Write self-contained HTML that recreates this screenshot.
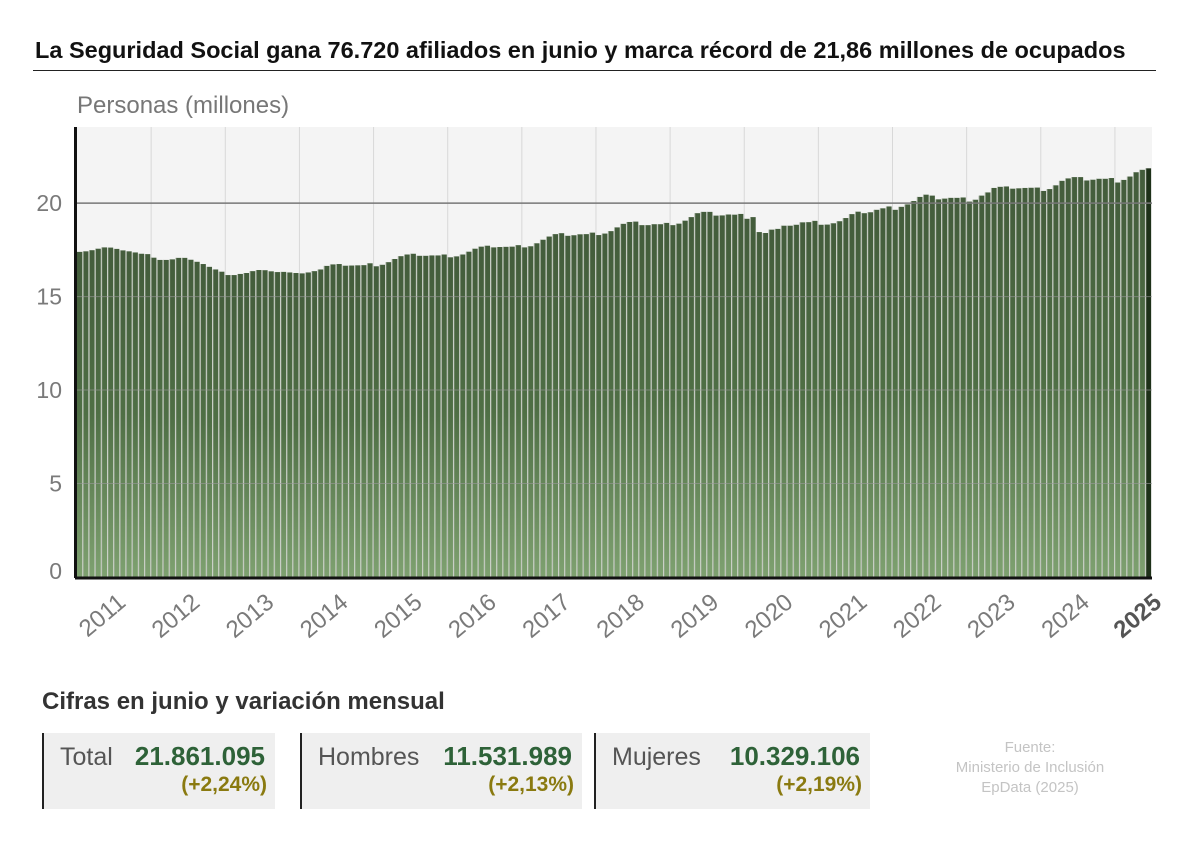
<!DOCTYPE html>
<html><head><meta charset="utf-8">
<style>
body{margin:0;width:1200px;height:850px;background:#fff;font-family:"Liberation Sans",sans-serif;position:relative;overflow:hidden}
.abs{position:absolute}
.card{position:absolute;top:733px;height:76px;background:#efefef;border-left:2px solid #222;box-sizing:border-box}
.card .lab{position:absolute;left:16px;top:10px;font-size:25px;color:#555}
.card .val{position:absolute;right:10px;top:8px;font-size:26px;font-weight:bold;color:#2e6238}
.card .pct{position:absolute;right:8px;top:40px;font-size:21px;font-weight:bold;color:#8a7a10}
</style></head><body>
<div class="abs" style="left:35px;top:37px;font-size:23.5px;font-weight:bold;color:#111;white-space:nowrap">La Seguridad Social gana 76.720 afiliados en junio y marca récord de 21,86 millones de ocupados</div>
<div class="abs" style="left:33px;top:70px;width:1123px;height:1px;background:#222"></div>
<div class="abs" style="left:77px;top:92px;font-size:24px;color:#777">Personas (millones)</div>
<svg id="chart" class="abs" style="left:0;top:0" width="1200" height="680">
<defs><linearGradient id="g" x1="0" y1="0" x2="0" y2="1"><stop offset="0" stop-color="#435c3b"/><stop offset="0.5" stop-color="#4f6f45"/><stop offset="1" stop-color="#7ea170"/></linearGradient></defs>
</svg>
<div class="abs" style="left:42px;top:688px;font-size:24px;font-weight:bold;color:#333">Cifras en junio y variación mensual</div>
<div class="card" style="left:42px;width:233px"><span class="lab">Total</span><span class="val">21.861.095</span><span class="pct">(+2,24%)</span></div>
<div class="card" style="left:300px;width:282px"><span class="lab">Hombres</span><span class="val">11.531.989</span><span class="pct">(+2,13%)</span></div>
<div class="card" style="left:594px;width:276px"><span class="lab">Mujeres</span><span class="val">10.329.106</span><span class="pct">(+2,19%)</span></div>
<div class="abs" style="left:930px;top:738px;width:200px;text-align:center;font-size:15px;line-height:20px;color:#c4c4c4">Fuente:<br>Ministerio de Inclusión<br>EpData (2025)</div>
<script>
const years=["2011","2012","2013","2014","2015","2016","2017","2018","2019","2020","2021","2022","2023","2024","2025"];
const yTicks=[0,5,10,15,20];
const values=[
17.39,17.42,17.48,17.56,17.63,17.62,17.55,17.47,17.42,17.36,17.29,17.27,
17.08,16.96,16.96,16.99,17.07,17.07,16.97,16.86,16.74,16.59,16.45,16.33,
16.15,16.15,16.21,16.26,16.36,16.42,16.41,16.35,16.31,16.32,16.29,16.26,
16.24,16.29,16.36,16.45,16.64,16.72,16.74,16.65,16.66,16.67,16.68,16.78,
16.62,16.70,16.84,17.01,17.16,17.25,17.29,17.18,17.18,17.20,17.20,17.25,
17.10,17.15,17.25,17.40,17.56,17.67,17.72,17.63,17.65,17.66,17.67,17.75,
17.63,17.69,17.85,18.04,18.21,18.34,18.39,18.25,18.28,18.33,18.34,18.42,
18.29,18.37,18.50,18.70,18.89,18.99,19.01,18.82,18.82,18.87,18.87,18.94,
18.82,18.90,19.06,19.25,19.46,19.53,19.53,19.33,19.34,19.39,19.38,19.42,
19.16,19.25,18.45,18.40,18.58,18.62,18.79,18.79,18.84,18.97,18.98,19.05,
18.84,18.85,18.92,19.03,19.20,19.41,19.54,19.46,19.51,19.64,19.72,19.82,
19.64,19.80,19.93,20.11,20.33,20.45,20.40,20.20,20.24,20.28,20.28,20.30,
20.08,20.18,20.40,20.57,20.81,20.87,20.89,20.77,20.79,20.81,20.82,20.83,
20.65,20.75,20.95,21.19,21.32,21.39,21.39,21.21,21.25,21.30,21.30,21.34,
21.10,21.24,21.42,21.65,21.78,21.86];
const svg=document.getElementById('chart');const NS="http://www.w3.org/2000/svg";
const X0=77,X1=1152,Y0=577,TOP=127,ymax=24.07;
const n=174,step=(X1-X0)/n;
const y=v=>Y0-v/ymax*(Y0-TOP);
const x=i=>X0+i*step;
function mk(t,a){const e=document.createElementNS(NS,t);for(const k in a)e.setAttribute(k,a[k]);svg.appendChild(e);return e;}
let e=mk('rect',{x:X0,y:TOP,width:X1-X0,height:Y0-TOP,fill:'#f4f4f4'});


years.forEach((yr,k)=>{if(k>0){const l=mk('line',{x1:x(k*12),x2:x(k*12),y1:TOP,y2:Y0,stroke:'#d8d8d8','stroke-width':1});

}});
values.forEach((v,i)=>{const r=mk('rect',{x:x(i),y:y(v),width:step-0.9,height:Y0-y(v),fill:i==values.length-1?'#1e3119':'url(#g)'});


if(i>0){mk('line',{x1:x(i),x2:x(i),y1:y(v),y2:Y0,stroke:'#a9b3a4','stroke-width':0.9});}});
yTicks.forEach(t=>{if(t>0){const l=mk('line',{x1:X0,x2:X1,y1:y(t),y2:y(t),stroke:t==20?'#777':'#9a9a9a','stroke-width':t==20?1.5:1,'stroke-opacity':t==20?1:0.6});

}
const tx=mk('text',{x:62,y:t==0?y(t)+2:y(t)+8,'text-anchor':'end','font-size':23,fill:'#7a7a7a','font-family':'Liberation Sans'});tx.textContent=t;

});
let a=mk('line',{x1:75.5,x2:75.5,y1:TOP,y2:Y0+1,stroke:'#111','stroke-width':3});


a=mk('line',{x1:75,x2:X1,y1:Y0+1,y2:Y0+1,stroke:'#111','stroke-width':3});


years.forEach((yr,k)=>{const cx=k==14?x(174)+2:x(k*12+6)+4;const cy=594;
const t=mk('text',{x:cx,y:cy,'text-anchor':'end','font-size':24,fill:k==14?'#555':'#7a7a7a','font-weight':k==14?'bold':'normal','font-family':'Liberation Sans',transform:`rotate(-40 ${cx} ${cy})`,dy:'14'});
t.textContent=yr;

});
</script>
</body></html>
